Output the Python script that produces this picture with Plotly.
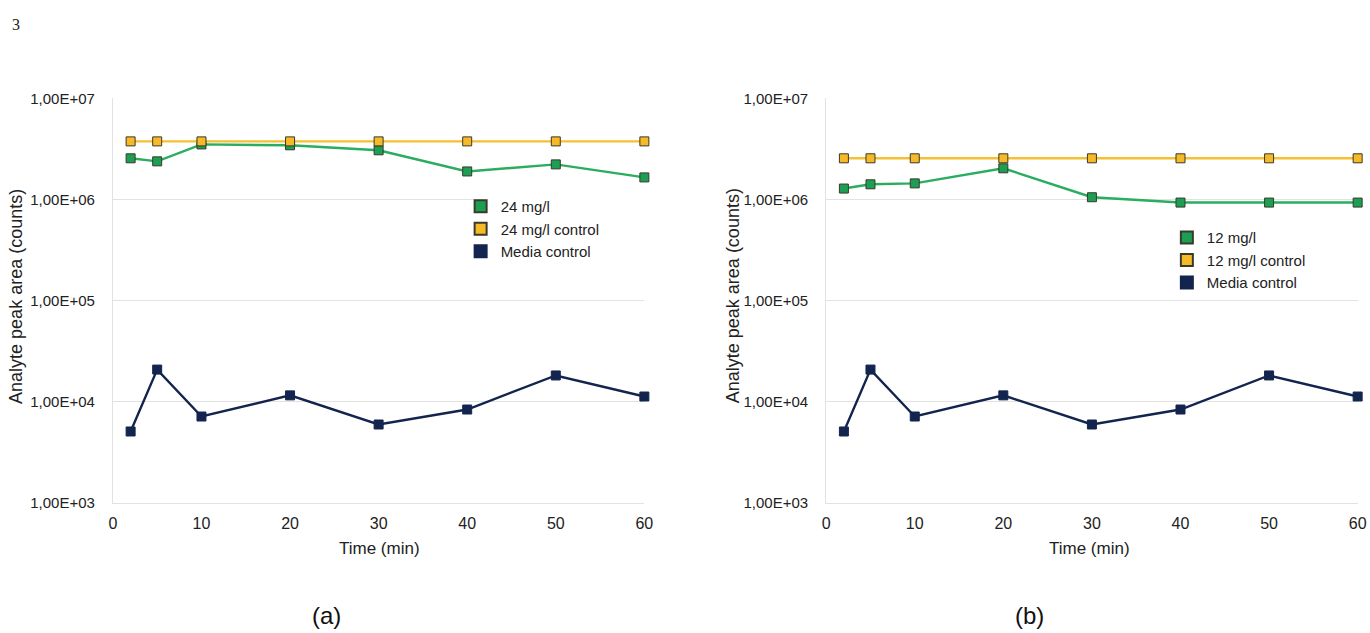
import plotly.graph_objects as go

W, H = 1370, 633

# Sampling times (min)
time_min = [2, 5, 10, 20, 30, 40, 50, 60]

# Panel (a): 24 mg/l
conc24 = [2.55e6, 2.38e6, 3.50e6, 3.43e6, 3.06e6, 1.89e6, 2.22e6, 1.65e6]
ctrl24 = [3.75e6] * 8

# Panel (b): 12 mg/l
conc12 = [1.28e6, 1.41e6, 1.44e6, 2.03e6, 1.05e6, 0.93e6, 0.93e6, 0.93e6]
ctrl12 = [2.55e6] * 8

# Media control (same in both panels)
media = [5.05e3, 2.07e4, 7.1e3, 1.15e4, 5.92e3, 8.33e3, 1.81e4, 1.12e4]

y_ticks = [1e3, 1e4, 1e5, 1e6, 1e7]
y_tick_text = ["1,00E+03", "1,00E+04", "1,00E+05", "1,00E+06", "1,00E+07"]
x_ticks = [0, 10, 20, 30, 40, 50, 60]

GREEN, GREEN_LINE = "#1c9e54", "#2aad60"
YELLOW, YELLOW_LINE = "#f6b928", "#f5c032"
NAVY = "#13254f"
EDGE = "#3a3a2a"
GRID = "#e2e2e2"
FONT = "Liberation Sans, Arial, sans-serif"

# layout positions are written in screen pixels of the captured page;
# these map them to figure pixels
SX, OX = 0.9915, 3.0
SY, OY = 0.975, 7.5


def px(x):
    return (x - OX) / SX / W


def py(y):
    return 1 - (y - OY) / SY / H


def ppx(p):
    return p / W


def ppy(p):
    return 1 - p / H


fig = go.Figure()


def add_series(xa, ya, y, name, fill, line, edge, legend):
    fig.add_trace(go.Scatter(
        x=time_min, y=y, xaxis=xa, yaxis=ya, mode="lines+markers",
        line=dict(color=line, width=2.4),
        marker=dict(symbol="square", size=9, color=fill,
                    line=dict(color=edge, width=1)),
        cliponaxis=False, showlegend=False, name=name))
    # legend entry shown as marker only
    fig.add_trace(go.Scatter(
        x=[None], y=[None], xaxis=xa, yaxis=ya, mode="markers",
        marker=dict(symbol="square", size=10, color=fill,
                    line=dict(color=edge, width=1)),
        name=name, legend=legend, showlegend=True))


add_series("x", "y", conc24, "24 mg/l", GREEN, GREEN_LINE, EDGE, "legend")
add_series("x", "y", ctrl24, "24 mg/l control", YELLOW, YELLOW_LINE, EDGE, "legend")
add_series("x", "y", media, "Media control", NAVY, NAVY, NAVY, "legend")

add_series("x2", "y2", conc12, "12 mg/l", GREEN, GREEN_LINE, EDGE, "legend2")
add_series("x2", "y2", ctrl12, "12 mg/l control", YELLOW, YELLOW_LINE, EDGE, "legend2")
add_series("x2", "y2", media, "Media control", NAVY, NAVY, NAVY, "legend2")

ydom = [py(502), py(97)]
xaxis_common = dict(
    range=[0, 60], tickvals=x_ticks, showgrid=False, zeroline=False,
    showline=True, linecolor=GRID, linewidth=1, ticks="",
    ticklabelstandoff=6,
    tickfont=dict(family=FONT, size=16, color="#222"))
yaxis_common = dict(
    type="log", range=[3, 7], tickvals=y_ticks, ticktext=y_tick_text,
    showgrid=True, gridcolor=GRID, gridwidth=1, zeroline=False,
    showline=True, linecolor=GRID, linewidth=1, ticks="",
    ticklabelstandoff=14, domain=ydom,
    tickfont=dict(family=FONT, size=15, color="#222"))

legend_common = dict(
    bgcolor="rgba(255,255,255,0)", borderwidth=0,
    font=dict(family=FONT, size=15, color="#222"),
    xanchor="left", yanchor="top", tracegroupgap=0,
    itemwidth=30, itemsizing="constant")

fig.update_layout(
    width=W, height=H, margin=dict(l=0, r=0, t=0, b=0),
    paper_bgcolor="white", plot_bgcolor="white",
    xaxis=dict(domain=[px(112), px(644)], anchor="y", **xaxis_common),
    yaxis=dict(anchor="x", **yaxis_common),
    xaxis2=dict(domain=[px(826), px(1358)], anchor="y2", **xaxis_common),
    yaxis2=dict(anchor="x2", **yaxis_common),
    legend=dict(x=ppx(461), y=ppy(186), **legend_common),
    legend2=dict(x=ppx(1174), y=ppy(218), **legend_common),
)

# keep the 1,00E+06 gridline hidden behind the legend area of panel (a)
fig.add_shape(type="rect", xref="paper", yref="paper", layer="above",
              x0=px(484), x1=px(650), y0=ppy(201), y1=ppy(191),
              fillcolor="white", line=dict(width=0))

annotations = [
    dict(text="3", x=px(15), y=py(23), font=dict(family="Liberation Serif, serif", size=16, color="#222")),
    dict(text="Time (min)", x=px(379), y=py(548), font=dict(family=FONT, size=17, color="#222")),
    dict(text="Time (min)", x=px(1090), y=py(548), font=dict(family=FONT, size=17, color="#222")),
    dict(text="Analyte peak area (counts)", x=px(15), y=py(295), textangle=-90,
         font=dict(family=FONT, size=18, color="#222")),
    dict(text="Analyte peak area (counts)", x=px(733), y=py(295), textangle=-90,
         font=dict(family=FONT, size=18, color="#222")),
    dict(text="(a)", x=px(326), y=ppy(623), font=dict(family=FONT, size=24, color="#111")),
    dict(text="(b)", x=px(1030), y=ppy(623), font=dict(family=FONT, size=24, color="#111")),
]
for a in annotations:
    fig.add_annotation(xref="paper", yref="paper", showarrow=False,
                       xanchor="center", yanchor="middle", **a)

fig.write_html("out.html")
